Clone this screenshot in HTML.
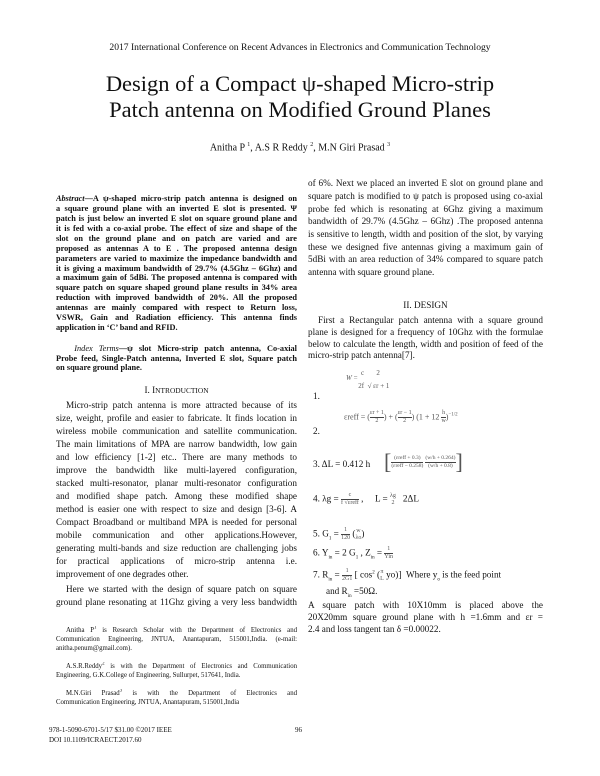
<!DOCTYPE html>
<html><head><meta charset="utf-8">
<style>
body{margin:0;background:#fff;}
#p{position:relative;width:600px;height:776px;overflow:hidden;background:#fff;color:#111;font-family:"Liberation Serif",serif;}
.a{position:absolute;white-space:nowrap;}
.j{position:absolute;text-align:justify;text-align-last:justify;height:11px;line-height:11px;overflow:hidden;white-space:normal;}
.L{left:56px;width:241px;}
.R{left:308px;width:235px;}
.b{font-size:8.3px;font-weight:bold;}
.t{font-size:9.2px;}
.f{font-size:6.8px;height:9px;line-height:9px;}
.e{font-size:9px;color:#333;}
.fr{display:inline-block;vertical-align:middle;text-align:center;font-size:6px;line-height:7px;}
.fr span{display:block;}
.fr .n{border-bottom:0.7px solid #444;}
sup.s{font-size:5px;line-height:0;}
</style></head><body>
<div id="p">
<div class="a" style="left:0;width:600px;text-align:center;top:42px;font-size:9.6px;">2017 International Conference on Recent Advances in Electronics and Communication Technology</div>
<div class="a" style="left:0;width:600px;text-align:center;top:71px;font-size:22.5px;line-height:26px;">Design of a Compact ψ-shaped Micro-strip<br>Patch antenna on Modified Ground Planes</div>
<div class="a" style="left:0;width:600px;text-align:center;top:142px;font-size:10px;">Anitha P <sup style="font-size:6px">1</sup>, A.S R Reddy <sup style="font-size:6px">2</sup>, M.N Giri Prasad <sup style="font-size:6px">3</sup></div>

<!-- Abstract -->
<div class="j L b" style="top:193px"><i>Abstract</i>—A ψ-shaped micro-strip patch antenna is designed on</div>
<div class="j L b" style="top:203px">a square ground plane with an inverted E slot is presented. Ψ</div>
<div class="j L b" style="top:213px">patch is just below an inverted E slot on square ground plane and</div>
<div class="j L b" style="top:223px">it is fed with a co-axial probe. The effect of size and shape of the</div>
<div class="j L b" style="top:233px">slot on the ground plane and on patch are varied and are</div>
<div class="j L b" style="top:243px">proposed as antennas A to E . The proposed antenna design</div>
<div class="j L b" style="top:253px">parameters are varied to maximize the impedance bandwidth and</div>
<div class="j L b" style="top:263px">it is giving a maximum bandwidth of 29.7% (4.5Ghz – 6Ghz) and</div>
<div class="j L b" style="top:272px">a maximum gain of 5dBi. The proposed antenna is compared with</div>
<div class="j L b" style="top:282px">square patch on square shaped ground plane results in 34% area</div>
<div class="j L b" style="top:292px">reduction with improved bandwidth of 20%. All the proposed</div>
<div class="j L b" style="top:302px">antennas are mainly compared with respect to Return loss,</div>
<div class="j L b" style="top:312px">VSWR, Gain and Radiation efficiency. This antenna finds</div>
<div class="a b" style="left:56px;top:322px;line-height:11px">application in ‘C’ band and RFID.</div>

<div class="j L b" style="top:343px"><i style="font-weight:normal">&nbsp;&nbsp;&nbsp;Index Terms</i>—ψ slot Micro-strip patch antenna, Co-axial</div>
<div class="j L b" style="top:353px">Probe feed, Single-Patch antenna, Inverted E slot, Square patch</div>
<div class="a b" style="left:56px;top:362px;line-height:11px">on square ground plane.</div>

<div class="a t" style="left:56px;width:241px;text-align:center;top:385px;">I. I<span style="font-size:7.4px">NTRODUCTION</span></div>

<div class="j L t" style="top:400px;padding-left:10px;width:231px">Micro-strip patch antenna is more attracted because of its</div>
<div class="j L t" style="top:413px">size, weight, profile and easier to fabricate. It finds location in</div>
<div class="j L t" style="top:426px">wireless mobile communication and satellite communication.</div>
<div class="j L t" style="top:439px">The main limitations of MPA are narrow bandwidth, low gain</div>
<div class="j L t" style="top:452px">and low efficiency [1-2] etc.. There are many methods to</div>
<div class="j L t" style="top:465px">improve the bandwidth like multi-layered configuration,</div>
<div class="j L t" style="top:478px">stacked multi-resonator, planar multi-resonator configuration</div>
<div class="j L t" style="top:491px">and modified shape patch. Among these modified shape</div>
<div class="j L t" style="top:504px">method is easier one with respect to size and design [3-6]. A</div>
<div class="j L t" style="top:517px">Compact Broadband or multiband MPA is needed for personal</div>
<div class="j L t" style="top:530px">mobile communication and other applications.However,</div>
<div class="j L t" style="top:543px">generating multi-bands and size reduction are challenging jobs</div>
<div class="j L t" style="top:556px">for practical applications of micro-strip antenna i.e.</div>
<div class="a t" style="left:56px;top:569px;line-height:11px">improvement of one degrades other.</div>

<div class="j L t" style="top:584px;padding-left:10px;width:231px">Here we started with the design of square patch on square</div>
<div class="j L t" style="top:597px">ground plane resonating at 11Ghz giving a very less bandwidth</div>

<div class="j L f" style="top:626px;padding-left:10px;width:231px">Anitha P<sup class="s">1</sup> is Research Scholar with the Department of Electronics and</div>
<div class="j L f" style="top:635px">Communication Engineering, JNTUA, Anantapuram, 515001,India. (e-mail:</div>
<div class="a f" style="left:56px;top:644px">anitha.penum@gmail.com).</div>
<div class="j L f" style="top:662px;padding-left:10px;width:231px">A.S.R.Reddy<sup class="s">2</sup> is with the Department of Electronics and Communication</div>
<div class="a f" style="left:56px;top:671px">Engineering, G.K.College of Engineering, Sullurpet, 517641, India.</div>
<div class="j L f" style="top:689px;padding-left:10px;width:231px">M.N.Giri Prasad<sup class="s">3</sup> is with the Department of Electronics and</div>
<div class="a f" style="left:56px;top:698px">Communication Engineering, JNTUA, Anantapuram, 515001,India</div>

<div class="a" style="left:49px;top:725px;font-size:7px;line-height:10px">978-1-5090-6701-5/17 $31.00 ©2017 IEEE<br>DOI 10.1109/ICRAECT.2017.60</div>
<div class="a" style="left:295px;top:725px;font-size:7px;line-height:10px">96</div>

<!-- Right column -->
<div class="j R t" style="top:178px">of 6%. Next we placed an inverted E slot on ground plane and</div>
<div class="j R t" style="top:191px">square patch is modified to ψ patch is proposed using co-axial</div>
<div class="j R t" style="top:204px">probe fed which is  resonating at 6Ghz giving a maximum</div>
<div class="j R t" style="top:216px">bandwidth of 29.7% (4.5Ghz – 6Ghz) .The proposed antenna</div>
<div class="j R t" style="top:229px">is sensitive to length, width and position of the slot, by varying</div>
<div class="j R t" style="top:242px">these we designed five antennas giving a maximum gain of</div>
<div class="j R t" style="top:254px">5dBi with an area reduction of 34% compared to square patch</div>
<div class="a t" style="left:308px;top:267px;line-height:11px">antenna with square ground plane.</div>

<div class="a t" style="left:308px;width:235px;text-align:center;top:300px;">II. DESIGN</div>
<div class="j R t" style="top:315px;padding-left:10px;width:225px">First a Rectangular patch antenna with a square ground</div>
<div class="j R t" style="top:327px">plane is designed for a frequency of 10Ghz with the formulae</div>
<div class="j R t" style="top:339px">below to calculate the length, width and position of feed of the</div>
<div class="a t" style="left:308px;top:350px;line-height:11px">micro-strip patch antenna[7].</div>

<!-- equations -->
<div class="a t" style="left:313px;top:391px">1.</div>
<div class="a e" style="left:346px;top:374px;font-size:7px;line-height:8px;color:#555">
<span style="font-style:italic">W</span> = &nbsp;<span style="position:relative;top:-5px">c</span>&nbsp;&nbsp;&nbsp;&nbsp;&nbsp;&nbsp;&nbsp;<span style="position:relative;top:-5px">2</span><br>
&nbsp;&nbsp;&nbsp;&nbsp;&nbsp;&nbsp;&nbsp;2f &nbsp;√ εr + 1</div>
<div class="a t" style="left:313px;top:426px">2.</div>
<div class="a e" style="left:344px;top:410px;color:#555;font-size:8px">εreff = (<span class="fr"><span class="n">εr + 1</span><span>2</span></span>) + (<span class="fr"><span class="n">εr − 1</span><span>2</span></span>) (1 + 12 <span class="fr"><span class="n">h</span><span>w</span></span>)<sup style="font-size:5px">−1/2</sup></div>
<div class="a t" style="left:313px;top:459px">3. ΔL = 0.412 h</div>
<div class="a e" style="left:384px;top:449px;color:#555;font-size:8px"><span style="font-size:22px;vertical-align:middle">[</span><span class="fr" style="font-size:5.5px"><span class="n">(εreff + 0.3)</span><span>(εreff − 0.258)</span></span> <span class="fr" style="font-size:5.5px"><span class="n">(w/h + 0.264)</span><span>(w/h + 0.8)</span></span><span style="font-size:22px;vertical-align:middle">]</span></div>
<div class="a t" style="left:313px;top:492px">4. λg = <span class="fr" style="font-size:6px;color:#555"><span class="n">c</span><span>f √εreff</span></span> , &nbsp;&nbsp;&nbsp; L = <span class="fr" style="font-size:6px;color:#555"><span>λg</span><span>2</span></span> &nbsp;&nbsp;2ΔL</div>
<div class="a t" style="left:313px;top:527px">5. G<sub style="font-size:5px">1</sub> = <span class="fr" style="color:#555"><span class="n">1</span><span>120</span></span> (<span class="fr" style="color:#555"><span>w</span><span>λo</span></span>)</div>
<div class="a t" style="left:313px;top:546px">6. Y<sub style="font-size:5px">in</sub> = 2 G<sub style="font-size:5px">1</sub> , Z<sub style="font-size:5px">in</sub> = <span class="fr" style="color:#555"><span class="n">1</span><span>Yin</span></span></div>
<div class="a t" style="left:313px;top:568px">7. R<sub style="font-size:5px">in</sub> = <span class="fr" style="color:#555"><span class="n">1</span><span>2G1</span></span> [ cos<sup style="font-size:5px">2</sup> (<span class="fr" style="color:#555"><span>π</span><span>L</span></span> yo)] &nbsp;Where y<sub style="font-size:5px">o</sub> is the feed point</div>
<div class="a t" style="left:326px;top:586px">and R<sub style="font-size:5px">in</sub> =50Ω.</div>

<div class="j R t" style="top:600px">A square patch with 10X10mm is placed above the</div>
<div class="j R t" style="top:612px">20X20mm square ground plane with h =1.6mm and εr =</div>
<div class="a t" style="left:308px;top:624px;line-height:11px">2.4 and loss tangent tan δ =0.00022.</div>
</div>
</body></html>
